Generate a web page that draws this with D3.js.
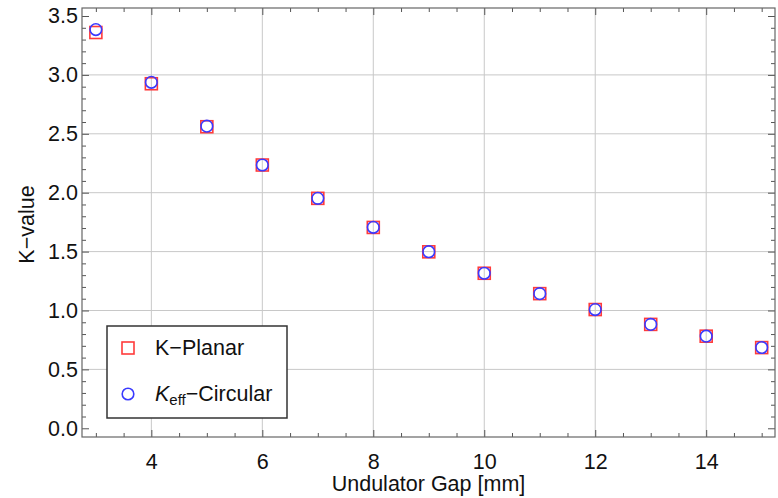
<!DOCTYPE html>
<html>
<head>
<meta charset="utf-8">
<script src="https://cdn.jsdelivr.net/npm/d3@7"></script>
<style>
  html, body { margin: 0; padding: 0; background: #fff; }
  svg text { font-family: "Liberation Sans", Arial, sans-serif; fill: #111; }
</style>
</head>
<body>
<svg id="chart" width="778" height="498"></svg>
<script>
// Undulator gap (mm)
const gaps = [3, 4, 5, 6, 7, 8, 9, 10, 11, 12, 13, 14, 15];
// Planar K-value
const kPlanar = [3.36, 2.925, 2.56, 2.235, 1.952, 1.705, 1.498, 1.316, 1.143, 1.008, 0.882, 0.782, 0.685];
// Effective K for circular polarisation
const kCircular = [3.385, 2.937, 2.565, 2.235, 1.952, 1.706, 1.499, 1.316, 1.143, 1.008, 0.882, 0.782, 0.686];

const xTicks = [4, 6, 8, 10, 12, 14];
const yTicks = [0.0, 0.5, 1.0, 1.5, 2.0, 2.5, 3.0, 3.5];
const yGrid = [0.5, 1.0, 1.5, 2.0, 2.5, 3.0];

const svg = d3.select("#chart");
const L = 82, R = 775, T = 8, B = 437;
const FS = 21.5;

const x = d3.scaleLinear().domain([2.75, 15.24]).range([L, R]);
const y = d3.scaleLinear().domain([-0.074, 3.568]).range([B, T]);

// grid
svg.append("g").selectAll("line.vg").data(xTicks).join("line")
  .attr("x1", d => x(d)).attr("x2", d => x(d)).attr("y1", T).attr("y2", B)
  .attr("stroke", "#c8c8c8").attr("stroke-width", 1);
svg.append("g").selectAll("line.hg").data(yGrid).join("line")
  .attr("x1", L).attr("x2", R).attr("y1", d => y(d)).attr("y2", d => y(d))
  .attr("stroke", "#c8c8c8").attr("stroke-width", 1);

// ticks on all four sides (pointing inward)
const xMinor = d3.range(3, 15.01, 0.5).filter(v => !xTicks.includes(v));
const yMinor = d3.range(0, 3.501, 0.1).map(v => +v.toFixed(2)).filter(v => !yTicks.some(t => Math.abs(t - v) < 1e-6));

const axB = d3.axisBottom(x).tickValues(xTicks).tickSize(-7).tickPadding(17).tickFormat(d3.format("d"));
const axBm = d3.axisBottom(x).tickValues(xMinor).tickSize(-4).tickFormat("");
const axT = d3.axisTop(x).tickValues(xTicks).tickSize(-7).tickFormat("");
const axTm = d3.axisTop(x).tickValues(xMinor).tickSize(-4).tickFormat("");
const axL = d3.axisLeft(y).tickValues(yTicks).tickSize(-7).tickPadding(4).tickFormat(d3.format(".1f"));
const axLm = d3.axisLeft(y).tickValues(yMinor).tickSize(-4).tickFormat("");
const axR = d3.axisRight(y).tickValues(yTicks).tickSize(-7).tickFormat("");
const axRm = d3.axisRight(y).tickValues(yMinor).tickSize(-4).tickFormat("");

function styleAxis(g) {
  g.select(".domain").remove();
  g.selectAll(".tick line").attr("stroke", "#555").attr("stroke-width", 1);
  g.selectAll(".tick text").attr("font-size", FS).style("font-family", "'Liberation Sans', Arial, sans-serif").attr("fill", "#111");
}
[[axB, `translate(0,${B})`], [axBm, `translate(0,${B})`], [axT, `translate(0,${T})`], [axTm, `translate(0,${T})`],
 [axL, `translate(${L},0)`], [axLm, `translate(${L},0)`], [axR, `translate(${R},0)`], [axRm, `translate(${R},0)`]]
  .forEach(([ax, tr]) => svg.append("g").attr("transform", tr).call(ax).call(styleAxis));

// frame
svg.append("rect").attr("x", L).attr("y", T).attr("width", R - L).attr("height", B - T)
  .attr("fill", "none").attr("stroke", "#666").attr("stroke-width", 1.2);

// axis titles
svg.append("text").attr("x", (L + R) / 2).attr("y", 491).attr("text-anchor", "middle")
  .attr("font-size", FS).text("Undulator Gap [mm]");
svg.append("text").attr("transform", `translate(34,${(T + B) / 2 + 2}) rotate(-90)`)
  .attr("text-anchor", "middle").attr("font-size", FS).text("K\u2212value");

// data
const sq = 12;
svg.append("g").selectAll("rect").data(gaps).join("rect")
  .attr("x", (d) => x(d) - sq / 2).attr("y", (d, i) => y(kPlanar[i]) - sq / 2)
  .attr("width", sq).attr("height", sq)
  .attr("fill", "none").attr("stroke", "#ff3b3b").attr("stroke-width", 1.6);
svg.append("g").selectAll("circle").data(gaps).join("circle")
  .attr("cx", d => x(d)).attr("cy", (d, i) => y(kCircular[i])).attr("r", 5.8)
  .attr("fill", "none").attr("stroke", "#3a3aff").attr("stroke-width", 1.6);

// legend
const lg = svg.append("g");
lg.append("rect").attr("x", 107).attr("y", 326).attr("width", 180).attr("height", 92)
  .attr("fill", "#fff").attr("stroke", "#333").attr("stroke-width", 1.5);
lg.append("rect").attr("x", 128 - 6).attr("y", 348 - 6).attr("width", 12).attr("height", 12)
  .attr("fill", "none").attr("stroke", "#ff3b3b").attr("stroke-width", 1.6);
lg.append("circle").attr("cx", 128).attr("cy", 394).attr("r", 5.8)
  .attr("fill", "none").attr("stroke", "#3a3aff").attr("stroke-width", 1.6);
lg.append("text").attr("x", 155).attr("y", 355).attr("font-size", FS).text("K\u2212Planar");
const t2 = lg.append("text").attr("x", 155).attr("y", 401).attr("font-size", FS);
t2.append("tspan").attr("font-style", "italic").text("K");
t2.append("tspan").attr("font-size", 15).attr("dy", 4).text("eff");
t2.append("tspan").attr("dy", -4).text("\u2212Circular");
</script>
</body>
</html>
